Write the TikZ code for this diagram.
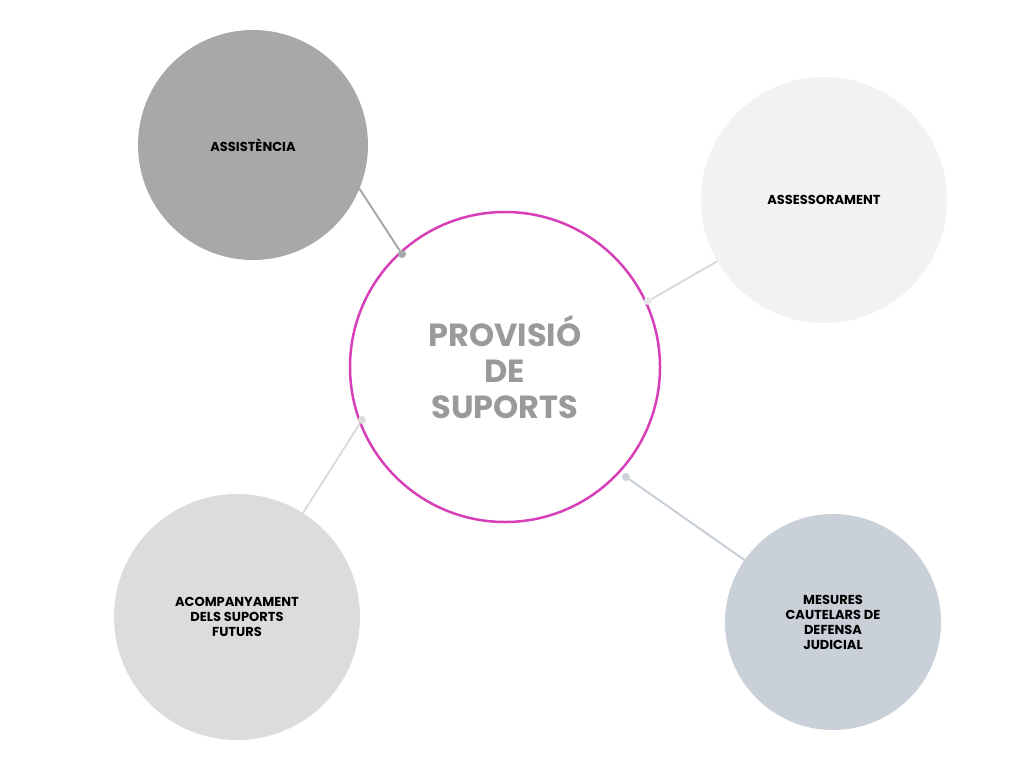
\documentclass[tikz,border=0pt]{standalone}
\usepackage{fontspec}
\setmainfont{Poppins}
\definecolor{mag}{HTML}{D63FB8}
\definecolor{cA}{HTML}{A7A8A9}
\definecolor{cB}{HTML}{F1F2F2}
\definecolor{cC}{HTML}{DCDCDC}
\definecolor{cD}{HTML}{C9D0D8}
\definecolor{ctext}{HTML}{9A9A9A}
\begin{document}
\begin{tikzpicture}[x=1pt,y=-1pt,
  bub/.style={circle,inner sep=0pt,minimum size=#1,align=center,font=\bfseries\fontsize{13}{15}\selectfont},
  dot/.style={circle,fill=#1,inner sep=0pt,minimum size=8pt},
  con/.style={line width=2pt,draw=#1}]
\useasboundingbox (0,0) rectangle (1024,768);
\node[bub=310pt,draw=mag,line width=2.5pt,fill=white,text=ctext,font=\bfseries\fontsize{32}{36}\selectfont] (c) at (505,367) {PROVISIÓ\\DE\\SUPORTS};
\node[dot=cA] (d1) at (402,254) {};
\node[dot=cB!80!black!20!cB] (d2) at (648,301) {};
\node[dot=cC] (d3) at (362,420) {};
\node[dot=cD] (d4) at (626,477) {};
\node[bub=230pt,fill=cA] (a) at (253,145) {ASSISTÈNCIA};
\node[bub=246pt,fill=cB] (b) at (824,200) {ASSESSORAMENT};
\node[bub=246pt,fill=cC] (e) at (237,617) {ACOMPANYAMENT\\DELS SUPORTS\\FUTURS};
\node[bub=216pt,fill=cD] (m) at (833,622) {MESURES\\CAUTELARS DE\\DEFENSA\\JUDICIAL};
\begin{scope}[on background layer/.style={}]
\end{scope}
\draw[con=cA] (357,185) -- (d1);
\draw[con=cB!90!black] (b) -- (d2);
\draw[con=cC] (e) -- (d3);
\draw[con=cD] (m) -- (d4);
\end{tikzpicture}
\end{document}
